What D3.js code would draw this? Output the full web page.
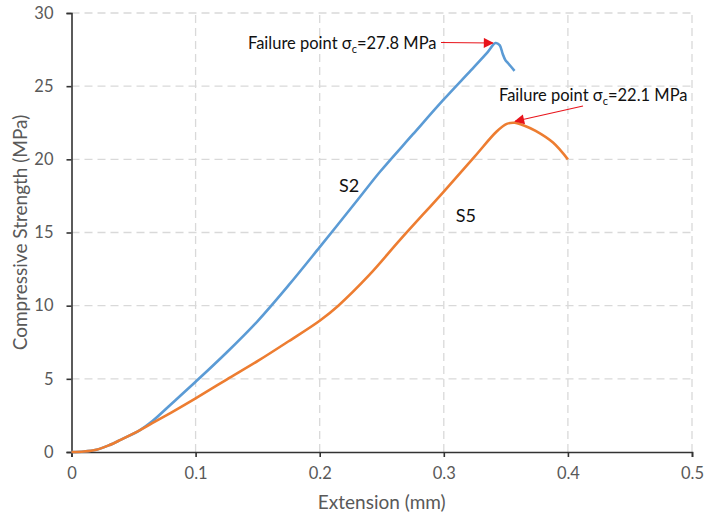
<!DOCTYPE html>
<html><head><meta charset="utf-8">
<script src="https://cdn.jsdelivr.net/npm/d3@7"></script>
<style>body{margin:0;background:#fff}svg{display:block}text{font-family:Lato,"Open Sans",sans-serif}</style>
</head><body><svg id="c" width="705" height="517"></svg>
<script>
const xTicks = [0, 0.1, 0.2, 0.3, 0.4, 0.5];
const yTicks = [0, 5, 10, 15, 20, 25, 30];
const s2X = [0, 0.01, 0.02, 0.03, 0.04, 0.0552, 0.065, 0.08, 0.1, 0.125, 0.15, 0.175, 0.2, 0.2303, 0.2486, 0.275, 0.2996, 0.322, 0.335, 0.3417, 0.345, 0.3475, 0.3495, 0.352, 0.357];
const s2Y = [0, 0.03, 0.15, 0.45, 0.85, 1.5, 2.1, 3.25, 4.8, 6.8, 8.95, 11.4, 14.0, 17.2, 19.15, 21.7, 24.06, 26.1, 27.3, 27.95, 27.8, 27.2, 26.8, 26.55, 26.05];
const s5X = [0, 0.01, 0.02, 0.03, 0.04, 0.0552, 0.065, 0.08, 0.1, 0.125, 0.1505, 0.175, 0.2, 0.215, 0.24, 0.2647, 0.3, 0.325, 0.3426, 0.3507, 0.357, 0.365, 0.374, 0.388, 0.4];
const s5Y = [0, 0.03, 0.15, 0.45, 0.85, 1.5, 1.97, 2.68, 3.67, 4.95, 6.24, 7.57, 8.97, 10.0, 12.1, 14.49, 17.8, 20.2, 21.9, 22.42, 22.5, 22.3, 21.95, 21.15, 20.0];
const seriesNames = ["S2", "S5"];
const colors = ["#5b9bd5", "#ed7d31"];

const svg = d3.select("#c");
const x = d3.scaleLinear().domain([0, 0.5]).range([71.5, 692]);
const y = d3.scaleLinear().domain([0, 30]).range([452, 13]);
const grey = "#595959";

// gridlines
svg.append("g").selectAll("line").data(yTicks.filter(d => d > 0)).join("line")
  .attr("x1", x(0)).attr("x2", x(0.5)).attr("y1", d => y(d)).attr("y2", d => y(d))
  .attr("stroke", "#d9d9d9").attr("stroke-width", 1.3).attr("stroke-dasharray", "8,5");
svg.append("g").selectAll("line").data(xTicks.filter(d => d > 0)).join("line")
  .attr("x1", d => x(d)).attr("x2", d => x(d)).attr("y1", y(0)).attr("y2", y(30))
  .attr("stroke", "#d9d9d9").attr("stroke-width", 1.3).attr("stroke-dasharray", "8,5");

// axes
const xAxis = svg.append("g").attr("transform", `translate(0,${y(0)})`)
  .call(d3.axisBottom(x).tickValues(xTicks).tickFormat(d => d === 0 ? "0" : d3.format(".1f")(d)).tickSize(5).tickPadding(10));
const yAxis = svg.append("g").attr("transform", `translate(${x(0)},0)`)
  .call(d3.axisLeft(y).tickValues(yTicks).tickSize(5).tickPadding(13));
[xAxis, yAxis].forEach(a => {
  a.select(".domain").attr("stroke", "#333").attr("stroke-width", 1.6);
  a.selectAll(".tick line").attr("stroke", "#333").attr("stroke-width", 1.6);
  a.selectAll(".tick text").attr("fill", grey).style("font-size", "16.5px").style("font-family", "Lato, sans-serif");
});

// lines
const line = d3.line().x(d => x(d[0])).y(d => y(d[1])).curve(d3.curveCatmullRom.alpha(0.5));
const data = [d3.zip(s2X, s2Y), d3.zip(s5X, s5Y)];
data.forEach((d, i) => {
  svg.append("path").datum(d).attr("d", line).attr("fill", "none")
    .attr("stroke", colors[i]).attr("stroke-width", 2.6).attr("stroke-linejoin", "round");
});

// series labels
svg.append("text").attr("x", x(0.2237)).attr("y", y(17.75)).text(seriesNames[0])
  .attr("font-size", 18).attr("fill", "#111").attr("text-anchor", "middle");
svg.append("text").attr("x", x(0.3178)).attr("y", y(15.75)).text(seriesNames[1])
  .attr("font-size", 18).attr("fill", "#111").attr("text-anchor", "middle");

// axis titles
svg.append("text").attr("transform", `translate(27,${(y(0)+y(30))/2}) rotate(-90)`)
  .attr("text-anchor", "middle").attr("fill", grey).attr("font-size", 19).text("Compressive Strength (MPa)");
svg.append("text").attr("x", (x(0)+x(0.5))/2).attr("y", 509)
  .attr("text-anchor", "middle").attr("fill", grey).attr("font-size", 19).text("Extension (mm)");

// annotations
const defs = svg.append("defs");
defs.append("marker").attr("id", "arr").attr("viewBox", "0 0 10 10").attr("refX", 9).attr("refY", 5)
  .attr("markerWidth", 11).attr("markerHeight", 10).attr("markerUnits", "userSpaceOnUse").attr("orient", "auto")
  .append("path").attr("d", "M0,0 L10,5 L0,10 Z").attr("fill", "#e8141b");

function annot(tx, ty, value, ax1, ay1, ax2, ay2) {
  const t = svg.append("text").attr("x", tx).attr("y", ty).attr("font-size", 16.5).attr("fill", "#111");
  t.append("tspan").text("Failure point σ");
  t.append("tspan").text("c").attr("font-size", 11).attr("dy", 4);
  t.append("tspan").text("=" + value + " MPa").attr("dy", -4);
  svg.append("line").attr("x1", ax1).attr("y1", ay1).attr("x2", ax2).attr("y2", ay2)
    .attr("stroke", "#e8141b").attr("stroke-width", 1.2).attr("marker-end", "url(#arr)");
}
annot(248, 49, "27.8", 441, 42.5, x(0.3395), y(27.95));
annot(499, 101, "22.1", 583, 106, x(0.3575), y(22.6));
</script></body></html>
